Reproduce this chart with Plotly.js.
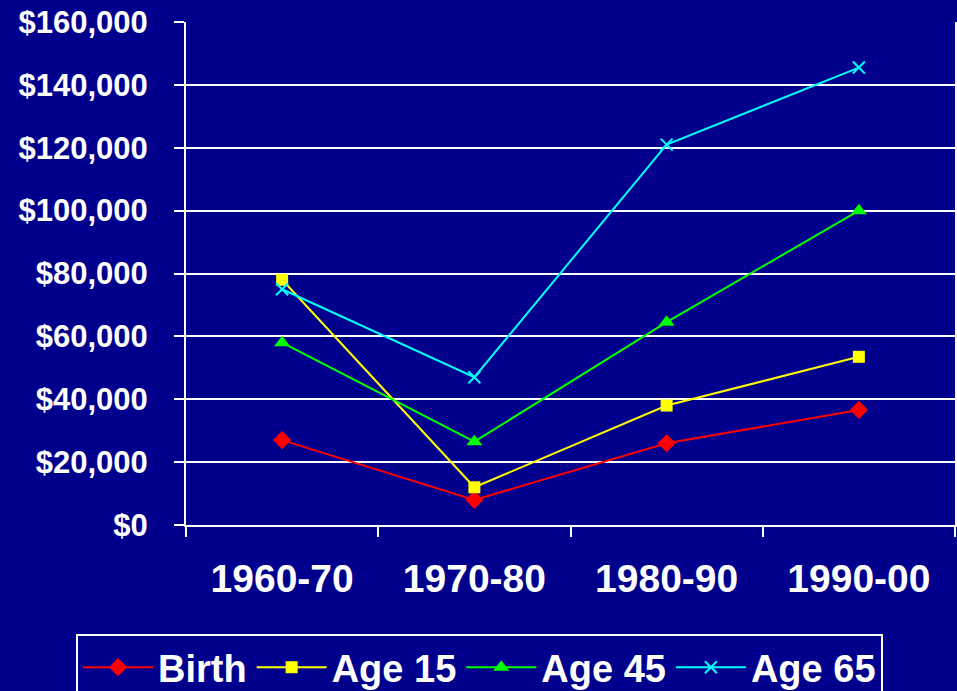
<!DOCTYPE html>
<html><head><meta charset="utf-8">
<script src="https://cdn.plot.ly/plotly-3.0.1.min.js"></script>
<style>html,body{margin:0;padding:0;background:#00008c;}</style>
</head><body>
<div id="chart" style="width:957px;height:691px;"></div>
<script>
const periods = ["1960-70", "1970-80", "1980-90", "1990-00"];
const birth = [27000, 8000, 26000, 36600];
const age15 = [78000, 12000, 38000, 53500];
const age45 = [58000, 26500, 64500, 100000];
const age65 = [75000, 47000, 121000, 145500];
const yTicks = [0, 20000, 40000, 60000, 80000, 100000, 120000, 140000, 160000];
const yTickText = ["$0", "$20,000", "$40,000", "$60,000", "$80,000", "$100,000", "$120,000", "$140,000", "$160,000"];

const FONT = "Arial, 'Liberation Sans', sans-serif";
function tr(name, y, color, symbol, size) {
  return {x: periods, y: y, name: name, type: 'scatter', mode: 'lines+markers',
    line: {color: color, width: 2},
    marker: {color: color, symbol: symbol, size: size, line: {color: color, width: symbol === 'x-thin' ? 2 : 0}}};
}
const data = [
  tr("Birth", birth, "#ff0000", "diamond", 14),
  tr("Age 15", age15, "#ffff00", "square", 12),
  tr("Age 45", age45, "#00ff00", "triangle-up", 14),
  tr("Age 65", age65, "#00ffff", "x-thin", 12)
];
const L = 186, R = 2, T = 22, B = 166, W = 957, H = 691;
const pw = W - L - R, ph = H - T - B;
const layout = {
  width: W, height: H,
  paper_bgcolor: "#00008c", plot_bgcolor: "#00008c",
  margin: {l: L, r: R, t: T, b: B, autoexpand: false},
  font: {family: FONT, color: "#ffffff"},
  showlegend: true,
  xaxis: {
    type: 'category', range: [-0.5, 3.5], tickson: 'boundaries',
    ticks: 'outside', ticklen: 10, tickwidth: 2, tickcolor: '#ffffff',
    showline: true, linecolor: '#ffffff', linewidth: 2, showgrid: false, zeroline: false,
    tickfont: {family: FONT, size: 39, color: '#ffffff', weight: 'bold'},
    ticklabelstandoff: 18
  },
  yaxis: {
    range: [0, 160000], tickvals: yTicks, ticktext: yTickText,
    ticks: 'outside', ticklen: 10, tickwidth: 2, tickcolor: '#ffffff',
    showline: true, linecolor: '#ffffff', linewidth: 2, mirror: true,
    showgrid: true, gridcolor: '#ffffff', gridwidth: 2, zeroline: false,
    tickfont: {family: FONT, size: 31, color: '#ffffff', weight: 'bold'},
    ticklabelstandoff: 20
  },
  legend: {
    orientation: 'h', xref: 'paper', yref: 'paper',
    x: (76 - L) / pw, xanchor: 'left', y: -(634 - (T + ph)) / ph, yanchor: 'top',
    bgcolor: "#00008c", bordercolor: '#ffffff', borderwidth: 2,
    font: {family: FONT, size: 38, color: '#ffffff', weight: 'bold'},
    itemwidth: 70, tracegroupgap: 0
  }
};
Plotly.newPlot('chart', data, layout, {displayModeBar: false, staticPlot: true});
</script>
</body></html>
